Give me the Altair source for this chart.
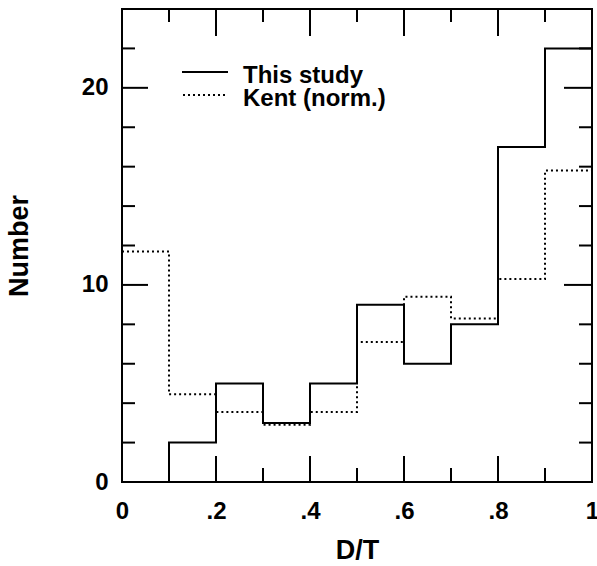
import altair as alt
import pandas as pd

# Bin edges (D/T) and the counts per bin for the two samples
bin_edges = [0.0, 0.1, 0.2, 0.3, 0.4, 0.5, 0.6, 0.7, 0.8, 0.9, 1.0]
this_study = [0, 2, 5, 3, 5, 9, 6, 8, 17, 22]
kent_norm = [11.7, 4.45, 3.55, 2.9, 3.55, 7.1, 9.4, 8.3, 10.3, 15.8]

# Tick positions
x_major = [0.2, 0.4, 0.6, 0.8]
x_minor = [0.1, 0.3, 0.5, 0.7, 0.9]
y_major = [10, 20]
y_minor = [2, 4, 6, 8, 12, 14, 16, 18, 22]
x_label_values = [0, 0.2, 0.4, 0.6, 0.8, 1.0]
y_label_values = [0, 10, 20]

legend_labels = ["This study", "Kent (norm.)"]

W, H = 470, 473
FONT = "Liberation Sans"


def step_table(counts, name):
    # one row per bin edge; the last edge repeats the final count so the step closes at x=1
    vals = list(counts) + [counts[-1]]
    return pd.DataFrame({"x": bin_edges, "n": vals, "series": name})


hist = pd.concat([step_table(this_study, legend_labels[0]),
                  step_table(kent_norm, legend_labels[1])])

xscale = alt.Scale(domain=[0, 1], nice=False, zero=False)
yscale = alt.Scale(domain=[0, 24], nice=False)

x_axis = alt.Axis(
    values=x_label_values, ticks=False, domain=False, grid=False,
    labelExpr="datum.value == 0 ? '0' : datum.value == 1 ? '1' : replace(format(datum.value, '.1f'), '0.', '.')",
    labelFlush=False, labelOverlap=False, labelBound=False,
    labelFontSize=24, labelFontWeight="bold", labelPadding=17,
    labelColor="black", labelFont=FONT,
    title="D/T", titleFontSize=27, titleFont=FONT, titleFontWeight="bold",
    titleColor="black", titlePadding=14,
)
y_axis = alt.Axis(
    values=y_label_values, ticks=False, domain=False, grid=False,
    labelFlush=False, labelOverlap=False,
    labelFontSize=24, labelFontWeight="bold", labelPadding=14,
    labelColor="black", labelFont=FONT,
    title="Number", titleFontSize=27, titleFont=FONT, titleFontWeight="bold",
    titleColor="black", titlePadding=48,
)

base = alt.Chart(hist)

solid = base.transform_filter(alt.datum.series == legend_labels[0]).mark_line(
    interpolate="step-after", color="black", strokeWidth=2
).encode(
    x=alt.X("x:Q", scale=xscale, axis=x_axis),
    y=alt.Y("n:Q", scale=yscale, axis=y_axis),
)

dotted = base.transform_filter(alt.datum.series == legend_labels[1]).mark_line(
    interpolate="step-after", color="black", strokeWidth=2, strokeDash=[2, 3]
).encode(
    x=alt.X("x:Q", scale=xscale),
    y=alt.Y("n:Q", scale=yscale),
)


def xticks(vals, length, top):
    df = pd.DataFrame({"t": vals})
    if top:
        y0, y1 = 0, length
    else:
        y0, y1 = H, H - length
    return alt.Chart(df).mark_rule(color="black", strokeWidth=2).encode(
        x=alt.X("t:Q", scale=xscale), y=alt.value(y0), y2=alt.value(y1)
    )


def yticks(vals, length, right):
    df = pd.DataFrame({"t": vals})
    if right:
        x0, x1 = W, W - length
    else:
        x0, x1 = 0, length
    return alt.Chart(df).mark_rule(color="black", strokeWidth=2).encode(
        y=alt.Y("t:Q", scale=yscale), x=alt.value(x0), x2=alt.value(x1)
    )


ticks = [
    xticks(x_major, 26, False), xticks(x_minor, 14, False),
    xticks(x_major, 27, True), xticks(x_minor, 13, True),
    yticks(y_major, 26, False), yticks(y_minor, 13, False),
    yticks(y_major, 28, True), yticks(y_minor, 13, True),
]

# Legend: sample lines and their labels
one = pd.DataFrame({"a": [0]})
leg_solid = alt.Chart(one).mark_rule(color="black", strokeWidth=2).encode(
    x=alt.value(60), x2=alt.value(106), y=alt.value(63)
)
leg_dotted = alt.Chart(one).mark_rule(
    color="black", strokeWidth=2, strokeDash=[2, 3]
).encode(x=alt.value(61), x2=alt.value(106), y=alt.value(86))


def legend_text(label, baseline_y):
    return alt.Chart(pd.DataFrame({"label": [label]})).mark_text(
        align="left", baseline="alphabetic", fontSize=24, fontWeight="bold",
        font=FONT, color="black"
    ).encode(x=alt.value(121), y=alt.value(baseline_y), text="label:N")


chart = alt.layer(
    solid, dotted, *ticks, leg_solid, leg_dotted,
    legend_text(legend_labels[0], 74), legend_text(legend_labels[1], 97),
).properties(
    width=W, height=H,
    autosize=alt.AutoSizeParams(type="none"),
    padding={"left": 122, "top": 9, "right": 5, "bottom": 84},
    background="white",
).configure_view(stroke="black", strokeWidth=2)

chart.save("out.html", embed_options={"renderer": "svg", "actions": False})
